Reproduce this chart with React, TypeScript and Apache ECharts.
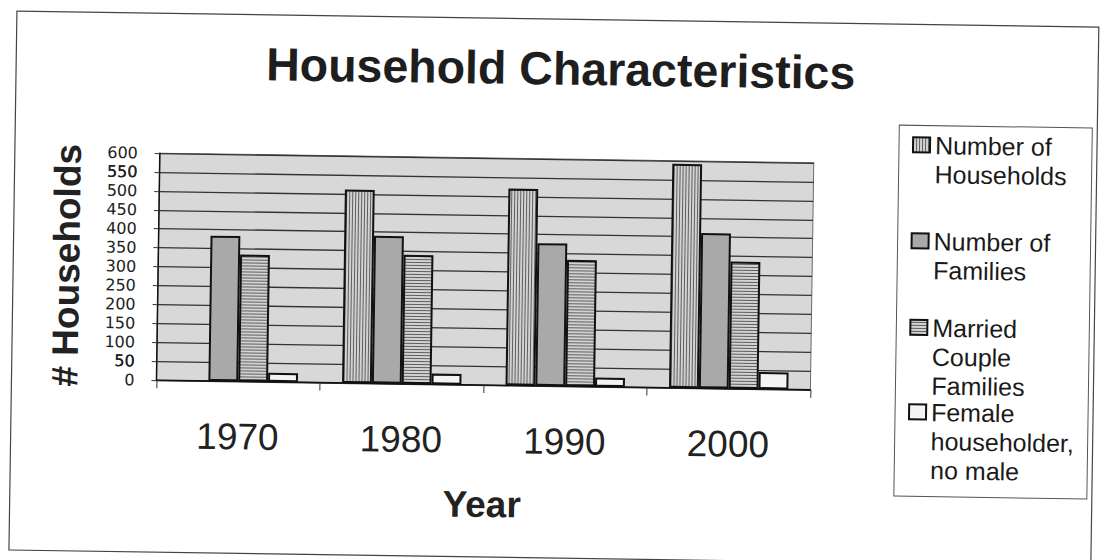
import { useEffect, useRef } from "react";
import * as echarts from "echarts";

// Census-style household counts by decade
const years = ["1970", "1980", "1990", "2000"];
const households = [null, 511, 520, 592];
const families = [384, 390, 377, 410];
const marriedCouples = [335, 341, 334, 336];
const femaleNoMale = [24, 28, 24, 45];

const seriesNames = [
  "Number of Households",
  "Number of Families",
  "Married Couple Families",
  "Female householder, no male",
];
const legendLines = [
  ["Number of", "Households"],
  ["Number of", "Families"],
  ["Married", "Couple", "Families"],
  ["Female", "householder,", "no male"],
];
const yMin = 0;
const yMax = 600;
const yStep = 50;

const FONT = "'Liberation Sans', Arial, sans-serif";

const GRID = { left: 158, right: 293, top: 159, bottom: 174 };
const WIDTH = 1105;
const HEIGHT = 560;

function stripePattern(vertical: boolean, bg: string, fg: string, period: number) {
  const c = document.createElement("canvas");
  c.width = period;
  c.height = period;
  const ctx = c.getContext("2d")!;
  ctx.fillStyle = bg;
  ctx.fillRect(0, 0, period, period);
  ctx.fillStyle = fg;
  if (vertical) ctx.fillRect(0, 0, 1, period);
  else ctx.fillRect(0, 0, period, 1);
  return { image: c, repeat: "repeat", imageWidth: period, imageHeight: period } as any;
}

// A legend swatch as tall as its text block, with the square drawn beside the first line.
function swatchIcon(lines: number, lineH: number, w: number, h: number) {
  const total = lines * lineH;
  const y0 = (lineH - h) / 2;
  const y1 = y0 + h;
  return `path://M0 ${y0}L${w} ${y0}L${w} ${y1}L0 ${y1}Z M0 0 M${w} ${total}`;
}

export default function App() {
  const ref = useRef<HTMLDivElement>(null);

  useEffect(() => {
    if (!ref.current) return;
    const chart = echarts.init(ref.current, undefined, { renderer: "svg" });

    const fills = [
      stripePattern(true, "#d2d2d2", "#5e5e5e", 3),
      "#a9a9a9",
      stripePattern(false, "#d2d2d2", "#5e5e5e", 3),
      "#f4f4f4",
    ];
    const values = [households, families, marriedCouples, femaleNoMale];

    const lineH = 29;
    const swW = 17;
    const swH = 15;
    // centre of each legend entry's first line
    const legendFirstLine = [138.5, 234.5, 321, 405.5];
    const plotWidth = WIDTH - GRID.left - GRID.right;

    const yLabelStyle = {
      fontFamily: "'DejaVu Sans', sans-serif",
      fontSize: 16,
      lineHeight: 17,
      color: "#222",
      margin: 22,
      hideOverlap: false,
    };

    chart.setOption({
      animation: false,
      backgroundColor: "#ffffff",
      textStyle: { fontFamily: FONT },
      title: {
        text: "Household Characteristics",
        left: 258,
        top: 40,
        textStyle: { fontFamily: FONT, fontSize: 46.5, fontWeight: "bold", color: "#1e1e1e" },
      },
      legend: seriesNames.map((name, i) => {
        const n = legendLines[i].length;
        return {
          data: [name],
          left: 910,
          top: legendFirstLine[i] - lineH / 2,
          padding: 0,
          icon: swatchIcon(n, lineH, swW, swH),
          itemWidth: swW,
          itemHeight: n * lineH,
          selectedMode: false,
          formatter: () => legendLines[i].join("\n"),
          textStyle: { fontFamily: FONT, fontSize: 25, lineHeight: lineH, color: "#1a1a1a" },
        };
      }),
      grid: {
        ...GRID,
        show: true,
        backgroundColor: "#d8d8d8",
        borderColor: "#6a6a6a",
        borderWidth: 1,
      },
      xAxis: {
        type: "category",
        data: years,
        name: "Year",
        nameLocation: "middle",
        nameGap: 101,
        nameTextStyle: { fontFamily: FONT, fontSize: 37, fontWeight: "bold", color: "#222" },
        axisLine: { lineStyle: { color: "#111", width: 1.5 } },
        axisTick: { show: true, length: 8, lineStyle: { color: "#333" } },
        axisLabel: { fontFamily: FONT, fontSize: 37, color: "#222", margin: 37 },
      },
      yAxis: [
        {
          type: "value",
          position: "left",
          min: yMin,
          max: yMax,
          interval: yStep,
          name: "# Households",
          nameLocation: "middle",
          nameGap: 73,
          nameRotate: 90,
          nameTextStyle: { fontFamily: FONT, fontSize: 37, fontWeight: "bold", color: "#222" },
          axisLine: { show: true, lineStyle: { color: "#111", width: 1.5 } },
          axisTick: { show: true, length: 5, lineStyle: { color: "#333" } },
          axisLabel: { ...yLabelStyle, showMinLabel: true, showMaxLabel: true },
          splitLine: { show: true, lineStyle: { color: "#333", width: 1.4 } },
        },
        {
          // same scale, laid over the left edge: carries the labels next to 0 and 600
          type: "value",
          position: "right",
          offset: -plotWidth,
          min: yMin,
          max: yMax,
          interval: yStep,
          axisLine: { show: false },
          axisTick: { show: false },
          splitLine: { show: false },
          axisLabel: {
            ...yLabelStyle,
            inside: true,
            showMinLabel: false,
            showMaxLabel: false,
            formatter: (v: number) => (v === yMin + yStep || v === yMax - yStep ? String(v) : ""),
          },
        },
      ],
      series: seriesNames.map((name, i) => ({
        type: "bar",
        name,
        data: values[i],
        barGap: "0%",
        barCategoryGap: "27%",
        itemStyle: { color: fills[i], borderColor: "#111", borderWidth: 2 },
        emphasis: { disabled: true },
      })),
      graphic: [
        {
          type: "rect",
          shape: { x: 13, y: 19, width: 1082, height: 539 },
          style: { fill: "none", stroke: "#444", lineWidth: 1.2 },
          silent: true,
          z: -1,
        },
        {
          type: "rect",
          shape: { x: 897, y: 120, width: 193, height: 371 },
          style: { fill: "none", stroke: "#555", lineWidth: 1 },
          silent: true,
          z: -1,
        },
      ],
    });

    return () => chart.dispose();
  }, []);

  return (
    <div
      style={{
        position: "fixed",
        left: 0,
        top: 0,
        width: WIDTH,
        height: HEIGHT,
        background: "#ffffff",
        overflow: "hidden",
      }}
    >
      <div
        ref={ref}
        style={{ width: WIDTH, height: HEIGHT, transform: "rotate(0.85deg)", transformOrigin: "50% 50%" }}
      />
    </div>
  );
}
